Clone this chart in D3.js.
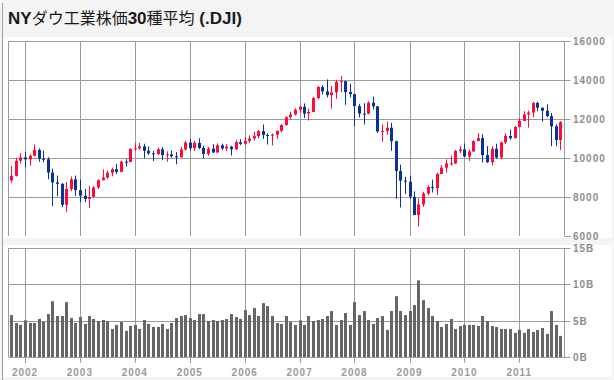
<!DOCTYPE html>
<html>
<head>
<meta charset="utf-8">
<script src="https://cdn.jsdelivr.net/npm/d3@7/dist/d3.min.js"></script>
<style>
  body { margin: 0; background: #fff; }
  text { font-family: "Liberation Sans", Arial, sans-serif; }
</style>
</head>
<body>
<svg id="chart" width="614" height="380"></svg>
<script>
// monthly candles, Oct 2001 .. Oct 2011
const firstMonth = new Date(2001, 9, 1);

const closes = [
  9075, 9852, 10022,
  9920, 10106, 10404, 9946, 9925, 9243, 8737, 8664, 7592, 8397, 8896, 8342,
  8054, 7891, 7992, 8480, 8850, 8985, 9234, 9416, 9275, 9801, 9782, 10454,
  10488, 10584, 10358, 10226, 10188, 10435, 10140, 10174, 10080, 10027, 10428, 10783,
  10490, 10766, 10504, 10193, 10467, 10275, 10641, 10482, 10569, 10440, 10806, 10718,
  10865, 10993, 11109, 11367, 11168, 11150, 11186, 11381, 11679, 12081, 12222, 12463,
  12622, 12269, 12354, 13063, 13628, 13409, 13212, 13358, 13896, 13930, 13372, 13265,
  12650, 12266, 12263, 12820, 12638, 11350, 11378, 11544, 10851, 9325, 8829, 8776,
  8001, 7063, 7609, 8168, 8500, 8447, 9172, 9496, 9712, 9713, 10345, 10428,
  10067, 10325, 10857, 11009, 10137, 9774, 10466, 10015, 10788, 11118, 11006, 11578,
  11892, 12226, 12320, 12811, 12570, 12414, 12143, 11614, 10913, 11830
];

const opens = [
  8847, 9075, 9852,
  10022, 9920, 10106, 10404, 9946, 9925, 9243, 8737, 8664, 7592, 8397, 8896,
  8342, 8054, 7891, 7992, 8480, 8850, 8985, 9234, 9416, 9275, 9801, 9782,
  10454, 10488, 10584, 10358, 10226, 10188, 10435, 10140, 10174, 10080, 10027, 10428,
  10783, 10490, 10766, 10504, 10193, 10467, 10275, 10641, 10482, 10569, 10440, 10806,
  10718, 10865, 10993, 11109, 11367, 11168, 11150, 11186, 11381, 11679, 12081, 12222,
  12463, 12622, 12269, 12354, 13063, 13628, 13409, 13212, 13358, 13896, 13930, 13372,
  13265, 12650, 12266, 12263, 12820, 12638, 11350, 11378, 11544, 10851, 9325, 8829,
  8776, 8001, 7063, 7609, 8168, 8500, 8447, 9172, 9496, 9712, 9713, 10345,
  10428, 10067, 10325, 10857, 11009, 10137, 9774, 10466, 10015, 10788, 11118, 11006,
  11578, 11892, 12226, 12320, 12811, 12570, 12414, 12143, 11614, 10913
];

const highs = [
  9590, 10000, 10236,
  10300, 10180, 10680, 10480, 10370, 10030, 9450, 9090, 8700, 8750, 9040, 9090,
  8890, 8410, 8560, 8540, 8900, 9400, 9350, 9500, 9690, 9840, 9930, 10490,
  10750, 10760, 10720, 10580, 10360, 10520, 10540, 10330, 10380, 10290, 10560, 10860,
  10970, 10880, 11000, 10620, 10560, 10700, 10740, 10720, 10700, 10620, 10900, 10960,
  11050, 11150, 11340, 11430, 11710, 11260, 11250, 11400, 11730, 12130, 12360, 12530,
  12650, 12790, 12520, 13120, 13690, 13720, 14020, 13690, 14000, 14200, 13950, 13790,
  13280, 12770, 12800, 12900, 13140, 12660, 11700, 11860, 11790, 10880, 9650, 9030,
  9090, 8280, 7930, 8260, 8590, 8880, 9230, 9630, 9920, 10120, 10410, 10590,
  10730, 10430, 10900, 11260, 11210, 10600, 10590, 10720, 10830, 11250, 11450, 11630,
  12030, 12390, 12420, 12880, 12880, 12570, 12750, 12300, 11720, 11880
];

const lows = [
  8720, 9040, 9700,
  9520, 9600, 10070, 9800, 9780, 8900, 7520, 8030, 7470, 7210, 8290, 8040,
  7730, 7720, 7420, 7980, 8400, 8850, 8930, 9050, 9160, 9260, 9550, 9770,
  10370, 10400, 9980, 10150, 9830, 10150, 9880, 9800, 10000, 9670, 10010, 10370,
  10370, 10350, 10440, 9980, 10100, 10250, 10250, 10400, 10350, 10120, 10400, 10650,
  10650, 10760, 10900, 11000, 10970, 10680, 10630, 10960, 11300, 11650, 11980, 12170,
  12310, 12040, 11910, 12330, 13000, 13250, 13100, 12520, 13030, 13360, 12720, 13100,
  11630, 12070, 11710, 12230, 12480, 11280, 10830, 11180, 10360, 7890, 7450, 8150,
  7900, 7060, 6470, 7480, 8100, 8220, 8090, 9150, 9250, 9600, 9680, 10240,
  10020, 9840, 10300, 10850, 9770, 9740, 9620, 9940, 9940, 10700, 10930, 11000,
  11560, 11890, 11550, 12090, 12380, 11860, 12080, 10600, 10600, 10400
];

// billions of shares
const volumes = [
  5.77, 4.68, 4.41,
  5.05, 4.68, 4.68, 5.23, 4.82, 5.91, 7.68, 5.64, 5.64, 7.55, 5.36, 4.68,
  5.50, 4.55, 5.64, 5.23, 4.95, 5.09, 4.95, 3.86, 4.41, 4.82, 3.59, 4.27,
  4.41, 3.86, 5.09, 4.55, 4.14, 4.14, 4.55, 3.86, 4.68, 5.36, 5.64, 5.77,
  5.36, 5.09, 5.91, 5.91, 4.95, 5.09, 4.95, 5.09, 5.23, 5.91, 5.50, 5.23,
  6.45, 5.77, 6.73, 5.64, 7.41, 7.00, 5.64, 4.68, 4.55, 5.64, 4.82, 4.41,
  5.05, 4.41, 5.64, 4.95, 5.09, 5.23, 5.64, 6.32, 4.41, 5.09, 6.05, 4.41,
  7.55, 5.77, 6.32, 5.09, 4.55, 5.36, 5.64, 3.73, 6.32, 8.36, 6.32, 5.77,
  6.32, 7.14, 10.55, 7.82, 6.73, 5.64, 4.95, 4.14, 4.55, 5.23, 3.86, 4.27,
  4.41, 4.41, 4.41, 4.27, 5.64, 4.95, 4.27, 4.14, 3.86, 3.86, 3.86, 3.32,
  3.73, 3.32, 3.86, 3.45, 3.73, 4.00, 3.18, 6.32, 4.41, 2.91
];

const priceTicks = [6000, 8000, 10000, 12000, 14000, 16000];
const volumeTicks = [0, 5, 10, 15];
// title pieces: [text, isLatin]
const titleParts = [["NY", true], ["ダウ工業株価", false], ["30", true], ["種平均", false], [" (.DJI)", true]];

const upColour = "#ff0a3c";
const downColour = "#0a3296";
const gridColour = "#9b9b9b";
const labelColour = "#8c8c8c";

const candles = closes.map((c, i) => ({
  date: d3.timeMonth.offset(firstMonth, i),
  open: opens[i],
  high: highs[i],
  low: lows[i],
  close: c,
  volume: volumes[i]
}));

const svg = d3.select("#chart");

const plotLeft = 8.5, plotRight = 564.5;
const priceTop = 41, priceBottom = 236;
const volTop = 248, volBottom = 357;

const x = d3.scaleTime()
  .domain([new Date(2002, 0, 1), new Date(2011, 0, 1)])
  .range([25, 519.3]);

const yPrice = d3.scaleLinear().domain([6000, 16000]).range([235.8, 40.8]);
const yVol = d3.scaleLinear().domain([0, 15]).range([357, 248]);

// backgrounds
svg.append("rect").attr("width", 614).attr("height", 380).attr("fill", "#f4f4f4");
svg.append("rect")
  .attr("x", 3).attr("y", 37).attr("width", 609).attr("height", 201)
  .attr("fill", "#fff");
svg.append("rect")
  .attr("x", 3).attr("y", 245).attr("width", 609).attr("height", 132)
  .attr("fill", "#fff");
svg.append("line")
  .attr("x1", 2.5).attr("x2", 2.5).attr("y1", 3).attr("y2", 380)
  .attr("stroke", "#a0a0a0");

svg.append("text")
  .attr("x", 8).attr("y", 24)
  .attr("font-size", 16)
  .attr("fill", "#1a1a1a")
  .selectAll("tspan")
  .data(titleParts)
  .join("tspan")
  .attr("font-family", d => d[1] ? "'Liberation Sans', Arial, sans-serif" : "'Noto Sans CJK JP', sans-serif")
  .attr("font-weight", d => d[1] ? "bold" : "normal")
  .attr("font-size", d => d[1] ? 17 : 16)
  .text(d => d[0]);

const years = x.ticks(d3.timeYear.every(1));

// ---- price panel
const pricePanel = svg.append("g");

pricePanel.selectAll(".hgrid")
  .data(priceTicks.slice(1))
  .join("line")
  .attr("x1", plotLeft).attr("x2", plotRight)
  .attr("y1", d => Math.round(yPrice(d)) + 0.5)
  .attr("y2", d => Math.round(yPrice(d)) + 0.5)
  .attr("stroke", gridColour);

pricePanel.selectAll(".vgrid")
  .data(years)
  .join("line")
  .attr("x1", d => Math.round(x(d)) + 0.5)
  .attr("x2", d => Math.round(x(d)) + 0.5)
  .attr("y1", priceTop).attr("y2", priceBottom)
  .attr("stroke", gridColour);

pricePanel.selectAll(".edge")
  .data([plotLeft, plotRight])
  .join("line")
  .attr("x1", d => d).attr("x2", d => d)
  .attr("y1", priceTop).attr("y2", priceBottom)
  .attr("stroke", gridColour);

pricePanel.selectAll(".ptick")
  .data(priceTicks)
  .join("line")
  .attr("x1", plotRight).attr("x2", plotRight + 6)
  .attr("y1", d => Math.round(yPrice(d)) + 0.5)
  .attr("y2", d => Math.round(yPrice(d)) + 0.5)
  .attr("stroke", gridColour);

pricePanel.selectAll(".plabel")
  .data(priceTicks)
  .join("text")
  .attr("x", 573)
  .attr("y", d => yPrice(d) + 4)
  .attr("font-size", 10)
  .attr("font-weight", "bold")
  .attr("letter-spacing", 1)
  .attr("fill", labelColour)
  .text(d => d3.format("d")(d));

const candleG = pricePanel.selectAll(".candle")
  .data(candles)
  .join("g")
  .attr("fill", d => d.close >= d.open ? upColour : downColour);

candleG.append("rect")
  .attr("x", d => Math.round(x(d.date)))
  .attr("width", 1)
  .attr("y", d => yPrice(d.high))
  .attr("height", d => yPrice(d.low) - yPrice(d.high));

candleG.append("rect")
  .attr("x", d => Math.round(x(d.date)) - 1)
  .attr("width", 3)
  .attr("y", d => yPrice(Math.max(d.open, d.close)))
  .attr("height", d => Math.max(1, Math.abs(yPrice(d.open) - yPrice(d.close))));

// ---- volume panel
const volPanel = svg.append("g");

volPanel.selectAll(".hgrid")
  .data(volumeTicks)
  .join("line")
  .attr("x1", plotLeft).attr("x2", plotRight + 6)
  .attr("y1", d => Math.round(yVol(d)) + 0.5)
  .attr("y2", d => Math.round(yVol(d)) + 0.5)
  .attr("stroke", gridColour);

volPanel.selectAll(".vgrid")
  .data(years)
  .join("line")
  .attr("x1", d => Math.round(x(d)) + 0.5)
  .attr("x2", d => Math.round(x(d)) + 0.5)
  .attr("y1", volTop).attr("y2", volBottom + 6)
  .attr("stroke", gridColour);

volPanel.selectAll(".edge")
  .data([plotLeft, plotRight])
  .join("line")
  .attr("x1", d => d).attr("x2", d => d)
  .attr("y1", volTop).attr("y2", volBottom)
  .attr("stroke", gridColour);

volPanel.selectAll(".bar")
  .data(candles)
  .join("rect")
  .attr("x", d => Math.round(x(d.date)) - 1)
  .attr("width", 3)
  .attr("y", d => yVol(d.volume))
  .attr("height", d => yVol(0) - yVol(d.volume))
  .attr("fill", "#666");

volPanel.selectAll(".vlabel")
  .data(volumeTicks)
  .join("text")
  .attr("x", 573)
  .attr("y", d => yVol(d) + 4)
  .attr("font-size", 10)
  .attr("font-weight", "bold")
  .attr("letter-spacing", 1)
  .attr("fill", labelColour)
  .text(d => d + "B");

volPanel.selectAll(".xlabel")
  .data(years)
  .join("text")
  .attr("x", d => x(d))
  .attr("y", 376)
  .attr("text-anchor", "middle")
  .attr("font-size", 10)
  .attr("font-weight", "bold")
  .attr("letter-spacing", 1)
  .attr("fill", "#9a9a9a")
  .text(d3.timeFormat("%Y"));
</script>
</body>
</html>
